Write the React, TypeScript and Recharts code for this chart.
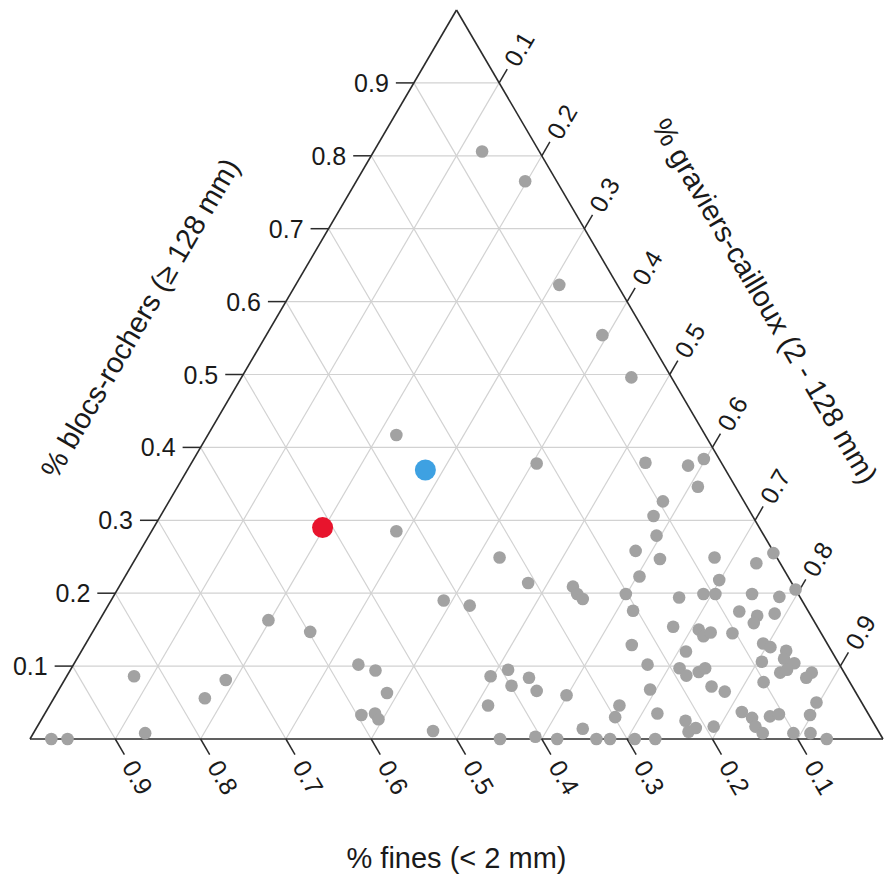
import { ScatterChart, Scatter, XAxis, YAxis, ReferenceLine } from 'recharts';

// Compositions (fraction of blocs-rochers, fraction of graviers-cailloux)
// fines = 1 - blocs - graviers
const BLOCS = [
    0.806, 0.765, 0.623, 0.554, 0.496, 0.378, 0.379, 0.375, 0.384, 0.346,
    0.326, 0.306, 0.279, 0.258, 0.247, 0.223, 0.249, 0.218, 0.241, 0.255,
    0.205, 0.249, 0.214, 0.209, 0.199, 0.192, 0.190, 0.183, 0.199, 0.176,
    0.194, 0.199, 0.199, 0.199, 0.195, 0.154, 0.175, 0.169, 0.159, 0.172,
    0.150, 0.141, 0.146, 0.145, 0.129, 0.120, 0.102, 0.097, 0.087, 0.092,
    0.097, 0.072, 0.065, 0.131, 0.126, 0.121, 0.110, 0.104, 0.106, 0.091,
    0.095, 0.078, 0.091, 0.084, 0.050, 0.033, 0.068, 0.046, 0.030, 0.014,
    0.035, 0.025, 0.010, 0.015, 0.017, 0.037, 0.029, 0.017, 0.008, 0.031,
    0.034, 0.008, 0.008, 0.000, 0.086, 0.095, 0.073, 0.084, 0.066, 0.060,
    0.046, 0.000, 0.003, 0.000, 0.000, 0.000, 0.000, 0.000, 0.011, 0.417,
    0.285, 0.163, 0.147, 0.102, 0.094, 0.063, 0.033, 0.035, 0.027, 0.086,
    0.081, 0.056, 0.008, 0.000, 0.000,
];
const GRAVIERS = [
    0.127, 0.198, 0.309, 0.394, 0.457, 0.405, 0.532, 0.584, 0.598, 0.610,
    0.579, 0.578, 0.595, 0.581, 0.615, 0.603, 0.678, 0.699, 0.731, 0.744,
    0.795, 0.426, 0.477, 0.532, 0.542, 0.552, 0.390, 0.424, 0.599, 0.619,
    0.664, 0.690, 0.704, 0.747, 0.781, 0.677, 0.744, 0.768, 0.769, 0.787,
    0.709, 0.719, 0.725, 0.751, 0.641, 0.709, 0.673, 0.713, 0.726, 0.738,
    0.743, 0.763, 0.782, 0.794, 0.805, 0.826, 0.829, 0.844, 0.805, 0.834,
    0.840, 0.821, 0.871, 0.868, 0.897, 0.898, 0.693, 0.668, 0.671, 0.641,
    0.718, 0.756, 0.767, 0.773, 0.793, 0.816, 0.832, 0.842, 0.855, 0.852,
    0.861, 0.891, 0.911, 0.934, 0.497, 0.513, 0.528, 0.543, 0.561, 0.599,
    0.514, 0.551, 0.591, 0.618, 0.664, 0.680, 0.709, 0.733, 0.467, 0.221,
    0.287, 0.198, 0.255, 0.334, 0.358, 0.387, 0.372, 0.387, 0.395, 0.079,
    0.189, 0.177, 0.131, 0.025, 0.044,
];

// highlighted sites
const RED_SITE = { blocs: 0.290, graviers: 0.198 };
const BLUE_SITE = { blocs: 0.369, graviers: 0.279 };

const TICKS = [0.1, 0.2, 0.3, 0.4, 0.5, 0.6, 0.7, 0.8, 0.9];
const TICK_LABELS = ['0.1', '0.2', '0.3', '0.4', '0.5', '0.6', '0.7', '0.8', '0.9'];

const TITLE_BLOCS = '% blocs-rochers (≥ 128 mm)';
const TITLE_GRAVIERS = '% graviers-cailloux (2 - 128 mm)';
const TITLE_FINES = '% fines (< 2 mm)';

// layout (pixels)
const W = 884;
const H = 874;
const X0 = 30;    // left vertex
const BASE = 853; // base width
const Y0 = 739;   // base line
const HT = 729;   // triangle height
const ANG = (Math.atan2(HT, BASE / 2) * 180) / Math.PI;
const DX = (BASE / 2) / Math.hypot(BASE / 2, HT);
const DY = HT / Math.hypot(BASE / 2, HT);

const ux = (p: number) => p / BASE;
const uy = (p: number) => p / HT;
const toXY = (b: number, g: number) => ({ x: g + b / 2, y: b });

const FONT = '"Liberation Sans", Arial, Helvetica, sans-serif';
const GRID = '#d2d2d2';
const EDGE = '#2b2b2b';

const points = BLOCS.map((b, i) => toXY(b, GRAVIERS[i]));
const red = [toXY(RED_SITE.blocs, RED_SITE.graviers)];
const blue = [toXY(BLUE_SITE.blocs, BLUE_SITE.graviers)];

type Seg = [{ x: number; y: number }, { x: number; y: number }];
const grid: Seg[] = [];
const ticks: Seg[] = [];
TICKS.forEach((k) => {
    grid.push([{ x: k / 2, y: k }, { x: 1 - k / 2, y: k }]);
    grid.push([{ x: k, y: 0 }, { x: (1 + k) / 2, y: 1 - k }]);
    grid.push([{ x: 1 - k, y: 0 }, { x: (1 - k) / 2, y: 1 - k }]);
    ticks.push([{ x: k / 2, y: k }, { x: k / 2 - ux(18), y: k }]);
    ticks.push([{ x: (1 + k) / 2, y: 1 - k }, { x: (1 + k) / 2 + ux(16 * DX), y: 1 - k + uy(16 * DY) }]);
    ticks.push([{ x: 1 - k, y: 0 }, { x: 1 - k + ux(18 * DX), y: -uy(18 * DY) }]);
});
const edges: Seg[] = [
    [{ x: 0, y: 0 }, { x: 1, y: 0 }],
    [{ x: 0, y: 0 }, { x: 0.5, y: 1 }],
    [{ x: 1, y: 0 }, { x: 0.5, y: 1 }],
];

const leftLabels = TICKS.map((k, i) => ({ x: k / 2 - ux(25), y: k, label: TICK_LABELS[i] }));
const rightLabels = TICKS.map((k, i) => ({
    x: (1 + k) / 2 + ux(22 * DX),
    y: 1 - k + uy(22 * DY),
    label: TICK_LABELS[i],
}));
const bottomLabels = TICKS.map((k, i) => ({
    x: 1 - k + ux(27 * DX),
    y: -uy(27 * DY),
    label: TICK_LABELS[i],
}));
const titles = [
    { x: ux(140 - X0), y: uy(Y0 - 318), label: TITLE_BLOCS, rot: -ANG },
    { x: ux(765 - X0), y: uy(Y0 - 301), label: TITLE_GRAVIERS, rot: ANG },
    { x: 0.5, y: uy(Y0 - 858), label: TITLE_FINES, rot: 0 },
];

const textShape = (rot: number, anchor: string, size: number) => (p: any) => (
    <text
        x={p.cx}
        y={p.cy}
        transform={`rotate(${p.payload.rot ?? rot} ${p.cx} ${p.cy})`}
        textAnchor={anchor}
        dominantBaseline="central"
        fontSize={size}
        fontFamily={FONT}
        fill="#1a1a1a"
    >
        {p.payload.label}
    </text>
);

const dot = (r: number, fill: string) => (p: any) => <circle cx={p.cx} cy={p.cy} r={r} fill={fill} />;

export default function App() {
    return (
        <div style={{ position: 'absolute', left: 0, top: 0, background: '#fff' }}>
            <ScatterChart width={W} height={H} margin={{ top: 0, right: 0, bottom: 0, left: 0 }}>
                <XAxis type="number" dataKey="x" domain={[-X0 / BASE, (W - X0) / BASE]} allowDataOverflow hide />
                <YAxis type="number" dataKey="y" domain={[(Y0 - H) / HT, Y0 / HT]} allowDataOverflow hide />
                {grid.map((s, i) => (
                    <ReferenceLine key={`g${i}`} segment={s} stroke={GRID} strokeWidth={1.2} ifOverflow="visible" />
                ))}
                {ticks.map((s, i) => (
                    <ReferenceLine key={`t${i}`} segment={s} stroke={EDGE} strokeWidth={1.5} ifOverflow="visible" />
                ))}
                {edges.map((s, i) => (
                    <ReferenceLine key={`e${i}`} segment={s} stroke={EDGE} strokeWidth={1.6} ifOverflow="visible" />
                ))}
                <Scatter data={points} shape={dot(6.3, '#a2a2a2')} isAnimationActive={false} />
                <Scatter data={red} shape={dot(10.5, '#e8142d')} isAnimationActive={false} />
                <Scatter data={blue} shape={dot(10.5, '#3ea1e2')} isAnimationActive={false} />
                <Scatter data={leftLabels} shape={textShape(0, 'end', 25)} isAnimationActive={false} />
                <Scatter data={rightLabels} shape={textShape(-ANG, 'start', 25)} isAnimationActive={false} />
                <Scatter data={bottomLabels} shape={textShape(ANG, 'start', 25)} isAnimationActive={false} />
                <Scatter data={titles} shape={textShape(0, 'middle', 29)} isAnimationActive={false} />
            </ScatterChart>
        </div>
    );
}
